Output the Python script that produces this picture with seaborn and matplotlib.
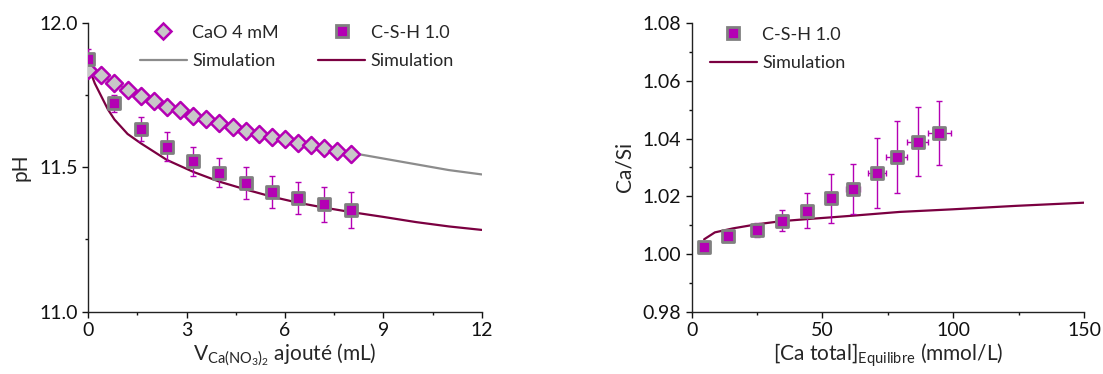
import numpy as np
import pandas as pd
import matplotlib
matplotlib.use("Agg")
import matplotlib.pyplot as plt
import seaborn as sns
from matplotlib.lines import Line2D
from matplotlib.ticker import MultipleLocator, FormatStrFormatter

# ---------------- data (left panel) ----------------
cao_x = [0.0, 0.4, 0.8, 1.2, 1.6, 2.0, 2.4, 2.8, 3.2, 3.6, 4.0, 4.4, 4.8, 5.2, 5.6, 6.0, 6.4, 6.8, 7.2, 7.6, 8.0]
cao_ph = [11.836, 11.819, 11.792, 11.767, 11.747, 11.729, 11.709, 11.698, 11.677, 11.667, 11.652,
          11.638, 11.626, 11.615, 11.606, 11.596, 11.585, 11.577, 11.567, 11.557, 11.544]
cao_err = [0.012] * 21

csh_x = [0.0, 0.8, 1.6, 2.4, 3.2, 4.0, 4.8, 5.6, 6.4, 7.2, 8.0]
csh_ph = [11.873, 11.721, 11.631, 11.571, 11.520, 11.481, 11.446, 11.415, 11.394, 11.371, 11.352]
csh_err = [0.035, 0.03, 0.042, 0.05, 0.05, 0.05, 0.056, 0.055, 0.055, 0.06, 0.062]

simg_x = [0, 0.5, 1, 2, 3, 4, 5, 6, 7, 8, 9, 10, 11, 12]
simg_ph = [11.84, 11.81, 11.78, 11.73, 11.69, 11.655, 11.625, 11.60, 11.575, 11.55, 11.53, 11.51, 11.49, 11.475]

simc_x = [0, 0.1, 0.2, 0.4, 0.6, 0.8, 1.2, 1.6, 2.4, 3.2, 4.0, 4.8, 5.6, 6.4, 7.2, 8.0, 9, 10, 11, 12]
simc_ph = [11.85, 11.82, 11.79, 11.745, 11.70, 11.665, 11.615, 11.583, 11.525, 11.484, 11.45,
           11.423, 11.398, 11.377, 11.36, 11.345, 11.328, 11.31, 11.295, 11.283]

# ---------------- data (right panel) ----------------
ca_tot = [4.8, 14.1, 24.9, 34.4, 44.1, 53.1, 61.7, 70.9, 78.4, 86.4, 94.7]
ca_si = [1.0025, 1.0064, 1.0083, 1.0116, 1.0150, 1.0194, 1.0225, 1.0281, 1.0335, 1.0390, 1.0420]
ca_si_err = [0.0007, 0.001, 0.0025, 0.0036, 0.006, 0.0085, 0.0086, 0.012, 0.0125, 0.012, 0.011]
ca_tot_err = [0.8, 1.0, 1.2, 1.5, 1.8, 2.0, 2.8, 3.3, 4.1, 4.1, 4.5]

simr_x = [4.8, 8.9, 15.9, 24.9, 34.4, 44.1, 53.1, 61.7, 79.6, 99.8, 124, 150]
simr_y = [1.0051, 1.0075, 1.0089, 1.0103, 1.0114, 1.0121, 1.0127, 1.0133, 1.0146, 1.0155, 1.0167, 1.0178]

# ---------------- style ----------------
sns.set_style("ticks")
plt.rcParams['font.family'] = ['Lato', 'DejaVu Sans']
plt.rcParams['mathtext.default'] = 'regular'

MAG = '#b400b4'
GRAYF = '#c8c8c8'
GRAYE = '#808080'
SIMG = '#8c8c8c'
CRIM = '#7b0041'

fig = plt.figure(figsize=(11.03, 3.74), dpi=100)
ax1 = fig.add_axes([0.080, 0.1666, 0.3567, 0.7727])
ax2 = fig.add_axes([0.627, 0.1666, 0.3558, 0.7711])

# ---- left ----
sns.lineplot(x=simg_x, y=simg_ph, ax=ax1, color=SIMG, lw=1.6, zorder=2)
sns.lineplot(x=simc_x, y=simc_ph, ax=ax1, color=CRIM, lw=1.6, zorder=2)
ax1.errorbar(cao_x, cao_ph, yerr=cao_err, fmt='none', ecolor=MAG, elinewidth=1, capsize=2.5, zorder=3)
ax1.errorbar(csh_x, csh_ph, yerr=csh_err, fmt='none', ecolor=MAG, elinewidth=1, capsize=2.5, zorder=3)
sns.scatterplot(x=cao_x, y=cao_ph, ax=ax1, marker='D', s=75, color=GRAYF, edgecolor=MAG, linewidth=1.8, zorder=4)
sns.scatterplot(x=csh_x, y=csh_ph, ax=ax1, marker='s', s=70, color=MAG, edgecolor=GRAYE, linewidth=2.0, zorder=4)

ax1.set_xlim(0, 12)
ax1.set_ylim(11.0, 12.0)
ax1.xaxis.set_major_locator(MultipleLocator(3))
ax1.xaxis.set_minor_locator(MultipleLocator(1.5))
ax1.yaxis.set_major_locator(MultipleLocator(0.5))
ax1.yaxis.set_minor_locator(MultipleLocator(0.25))
ax1.yaxis.set_major_formatter(FormatStrFormatter('%.1f'))
ax1.set_ylabel('pH', fontsize=15, labelpad=6)
ax1.set_xlabel(r'V$_{Ca(NO_3)_2}$ ajouté (mL)', fontsize=15, labelpad=2)

h1 = [Line2D([], [], ls='none', marker='D', ms=8.5, mfc=GRAYF, mec=MAG, mew=1.8),
      Line2D([], [], color=SIMG, lw=1.6),
      Line2D([], [], ls='none', marker='s', ms=8, mfc=MAG, mec=GRAYE, mew=2.0),
      Line2D([], [], color=CRIM, lw=1.6)]
l1 = ['CaO 4 mM', 'Simulation', 'C-S-H 1.0', 'Simulation']
ax1.legend(h1, l1, ncol=2, loc='upper center', bbox_to_anchor=(0.53, 1.05), frameon=False,
           fontsize=13, handlelength=2.6, columnspacing=2.2, labelspacing=0.7, handletextpad=0.3)

# ---- right ----
sns.lineplot(x=simr_x, y=simr_y, ax=ax2, color=CRIM, lw=1.6, zorder=2)
ax2.errorbar(ca_tot, ca_si, yerr=ca_si_err, xerr=ca_tot_err, fmt='none', ecolor=MAG, elinewidth=1,
             capsize=2.5, zorder=3)
sns.scatterplot(x=ca_tot, y=ca_si, ax=ax2, marker='s', s=70, color=MAG, edgecolor=GRAYE, linewidth=2.0, zorder=4)

ax2.set_xlim(0, 150)
ax2.set_ylim(0.98, 1.08)
ax2.xaxis.set_major_locator(MultipleLocator(50))
ax2.xaxis.set_minor_locator(MultipleLocator(25))
ax2.yaxis.set_major_locator(MultipleLocator(0.02))
ax2.yaxis.set_minor_locator(MultipleLocator(0.01))
ax2.yaxis.set_major_formatter(FormatStrFormatter('%.2f'))
ax2.set_ylabel('Ca/Si', fontsize=15, labelpad=6)
ax2.set_xlabel(r'[Ca total]$_{Equilibre}$ (mmol/L)', fontsize=15, labelpad=2)

h2 = [Line2D([], [], ls='none', marker='s', ms=8, mfc=MAG, mec=GRAYE, mew=2.0),
      Line2D([], [], color=CRIM, lw=1.6)]
ax2.legend(h2, ['C-S-H 1.0', 'Simulation'], loc='upper left', bbox_to_anchor=(0.005, 1.045), frameon=False,
           fontsize=13, handlelength=2.6, labelspacing=0.7, handletextpad=0.3)

for ax in (ax1, ax2):
    sns.despine(ax=ax)
    for s in ('left', 'bottom'):
        ax.spines[s].set_color('#222222')
        ax.spines[s].set_linewidth(1.0)
    ax.tick_params(which='major', direction='out', length=4, width=1, labelsize=14, colors='#111111')
    ax.tick_params(which='minor', direction='out', length=2.5, width=1, colors='#111111')

fig.savefig('out.png', dpi=100)
